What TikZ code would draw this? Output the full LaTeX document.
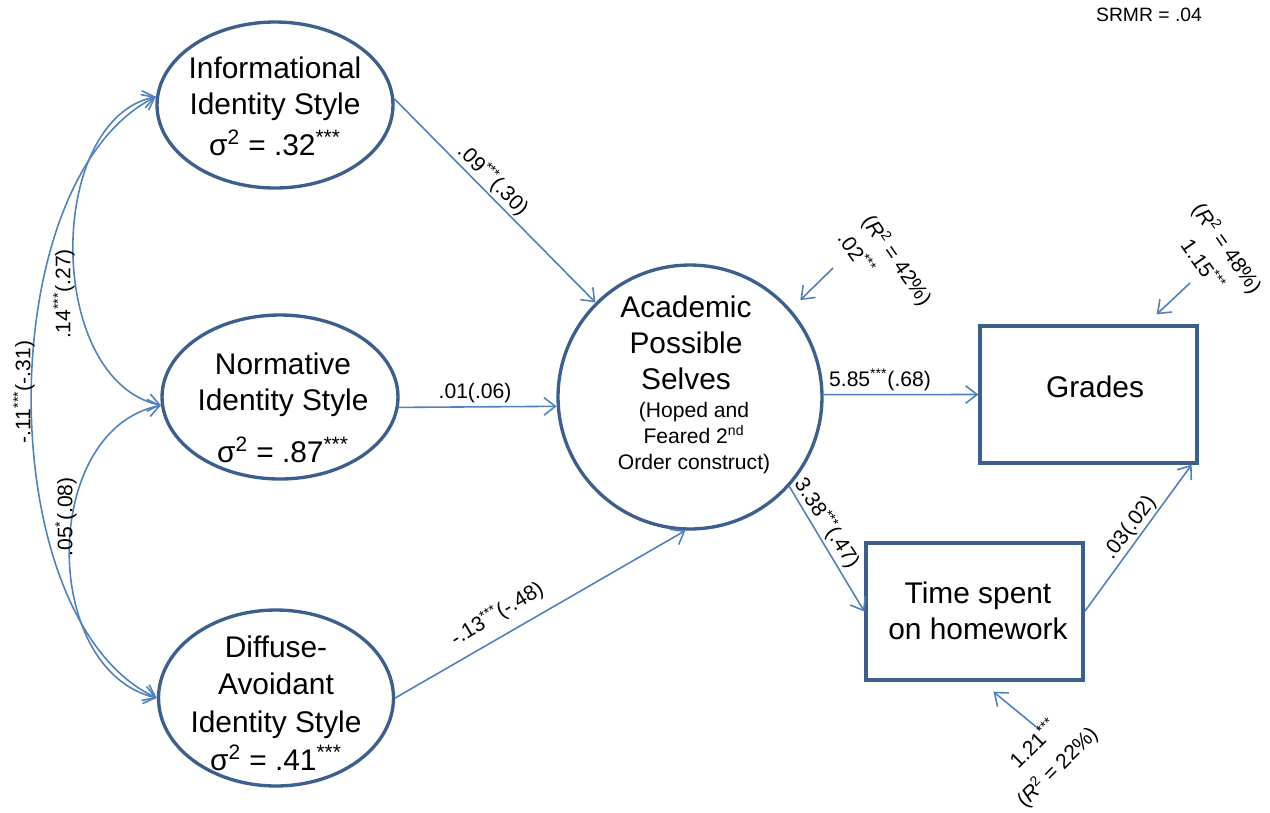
\documentclass[tikz,border=0pt]{standalone}
\usepackage{fontspec}
\setmainfont{Liberation Sans}
\usetikzlibrary{arrows.meta,shapes.geometric,calc}
\definecolor{shapeblue}{HTML}{3C5F8E}
\definecolor{arrowblue}{HTML}{4F81BD}
\begin{document}
\begin{tikzpicture}[x=0.02cm,y=-0.02cm,
  ell/.style={draw=shapeblue,line width=1.9pt,ellipse,inner sep=0pt},
  box/.style={draw=shapeblue,line width=1.9pt,rectangle,inner sep=0pt},
  big/.style={font=\fontsize{17}{20.5}\selectfont,align=center,inner sep=0pt},
  small/.style={font=\fontsize{12}{14.5}\selectfont,inner sep=1pt},
  resid/.style={font=\fontsize{12}{17}\selectfont,inner sep=1pt},
  conn/.style={draw=arrowblue,line width=0.9pt,-{Straight Barb[length=6.5pt,width=10pt]}},
  cov/.style={draw=arrowblue,line width=0.9pt,{Straight Barb[length=6.5pt,width=10pt]}-{Straight Barb[length=6.5pt,width=10pt]}},
]
\useasboundingbox (0,0) rectangle (1270,812);

% latent variables
\node[ell,minimum width=4.72cm,minimum height=3.32cm] (inf) at (275,105) {};
\node[ell,minimum width=4.72cm,minimum height=3.28cm] (nor) at (280,397) {};
\node[ell,minimum width=4.70cm,minimum height=3.52cm] (dif) at (276,698) {};
\node[circle,draw=shapeblue,line width=1.9pt,minimum size=5.28cm,inner sep=0pt] (aps) at (690,397) {};
\node[box,minimum width=4.34cm,minimum height=2.74cm] (gra) at (1088.5,394.5) {};
\node[box,minimum width=4.34cm,minimum height=2.74cm] (tim) at (974.5,611.5) {};

% texts
\node[big] (inf-t) at (275,106) {Informational\\Identity Style\\[3pt]σ\textsuperscript{2} = .32\textsuperscript{***}};
\node[big] (nor-t) at (283,408) {Normative\\Identity Style\\[9pt]σ\textsuperscript{2} = .87\textsuperscript{***}};
\node[big,font=\fontsize{17}{21.5}\selectfont] (dif-t) at (276,703) {Diffuse-\\Avoidant\\Identity Style\\σ\textsuperscript{2} = .41\textsuperscript{***}};
\node[big] (aps-t1) at (686,343) {Academic\\Possible\\Selves};
\node[big,font=\fontsize{12}{15}\selectfont] (aps-t2) at (694,438) {(Hoped and\\Feared 2\textsuperscript{nd}\\Order construct)};
\node[big] (gra-t) at (1095,387) {Grades};
\node[big] (tim-t) at (978,611) {Time spent\\on homework};
\node[font=\fontsize{11}{13}\selectfont] (fit) at (1149,15) {SRMR = .04};

% paths
\draw[conn] (inf.3) -- (aps.135);
\draw[conn] (nor.-5) -- (aps.184);
\draw[conn] (dif.east) -- (aps.-92);
\draw[conn] (aps.1) -- (gra.west);
\draw[conn] (aps.-42) -- (tim.west);
\draw[conn] (tim.east) -- ($(gra.south east)+(-7,0)$);

% residuals
\coordinate (e1) at (833,268);
\coordinate (e2) at (1190,283);
\coordinate (e3) at (1040,730);
\draw[conn,shorten >=7.5pt] (e1) -- (aps.41);
\draw[conn] (e2) -- ($(gra.north east)+(-42,-10)$);
\draw[conn] (e3) -- ($(tim.south west)+(129,10)$);

% covariances
\draw[cov] (inf.176) .. controls (45,120) and (45,380) .. (nor.184);
\draw[cov] (nor.184) .. controls (40,430) and (40,670) .. (dif.west);
\draw[cov] (inf.176) .. controls (-10,180) and (-10,620) .. (dif.west);

% labels
\node[small,rotate=-45] (l1) at (493,180) {.09\textsuperscript{***}(.30)};
\node[small] (l2) at (475,393) {.01(.06)};
\node[small,rotate=31] (l3) at (497,614) {-.13\textsuperscript{***}(-.48)};
\node[small] (l4) at (880,380) {5.85\textsuperscript{***}(.68)};
\node[small,rotate=-57] (l5) at (827,523) {3.38\textsuperscript{***}(.47)};
\node[small,rotate=53] (l6) at (1130,528) {.03(.02)};
\node[resid,rotate=-55,align=left] (r1t) at (886,268) {(\textit{R}\textsuperscript{2} = 42\%)\\.02\textsuperscript{***}};
\node[resid,rotate=-55,align=center] (r2t) at (1216,256) {(\textit{R}\textsuperscript{2} = 48\%)\\1.15\textsuperscript{***}};
\node[resid,rotate=45,align=center] (r3t) at (1046,756) {1.21\textsuperscript{***}\\[1.5pt](\textit{R}\textsuperscript{2} = 22\%)};
\node[small,rotate=90] (c1) at (24,392) {-.11\textsuperscript{***}(-.31)};
\node[small,rotate=90] (c2) at (64,294) {.14\textsuperscript{***}(.27)};
\node[small,rotate=90] (c3) at (66,517) {.05\textsuperscript{*}(.08)};
\end{tikzpicture}
\end{document}
